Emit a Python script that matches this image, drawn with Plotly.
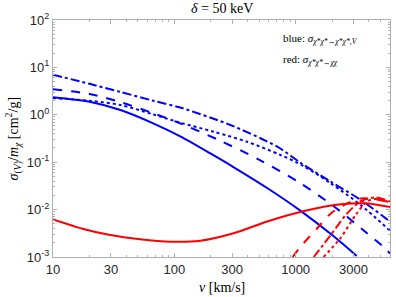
import plotly.graph_objects as go

# ---- data ----
# blue: sigma_{chi* chi* -> chi* chi*, V}
v_b_solid = [10, 20, 36, 67, 112, 200, 307, 600, 1100, 2000, 3190]
b_solid = [2.35, 1.89, 1.26, 0.66, 0.35, 0.151, 0.079, 0.0272, 0.0094, 0.0029, 0.00105]

v_b_dash = [10, 20, 36, 67, 112, 228, 494, 1060, 2060, 3860, 5540, 6000]
b_dash = [3.45, 2.75, 1.85, 1.08, 0.66, 0.30, 0.115, 0.038, 0.0118, 0.0032, 0.00148, 0.00118]

v_b_dashdot = [10, 20, 36, 67, 112, 290, 706, 1100, 1945, 3440, 6000]
b_dashdot = [7.0, 4.5, 3.03, 1.98, 1.42, 0.61, 0.212, 0.097, 0.0388, 0.016, 0.0056]

v_b_dot = [10, 20, 36, 67, 112, 211, 398, 751, 1172, 1945, 3440, 6000]
b_dot = [2.25, 1.98, 1.61, 1.02, 0.68, 0.44, 0.27, 0.142, 0.082, 0.0359, 0.0125, 0.0036]

# red: sigma_{chi* chi* -> chi chi}
v_r_solid = [10, 17.8, 29.6, 52.4, 92.5, 164, 308, 583, 1172, 2360, 3670, 6000]
r_solid = [0.0062, 0.0039, 0.0029, 0.00236, 0.0021, 0.0022, 0.00316, 0.0056, 0.0093, 0.0129, 0.0136, 0.0113]

v_r_dash = [945, 1100, 1515, 1950, 2670, 3450, 4500, 6000]
r_dash = [0.001, 0.00166, 0.0041, 0.0083, 0.0135, 0.0172, 0.0165, 0.0143]

v_r_dashdot = [1410, 1945, 2600, 3440, 4580, 6000]
r_dashdot = [0.001, 0.0029, 0.0078, 0.015, 0.018, 0.0148]

v_r_dot = [1700, 2340, 3140, 3900, 4870, 6000]
r_dot = [0.001, 0.0025, 0.0078, 0.015, 0.017, 0.0137]

x_ticks = [10, 30, 100, 300, 1000, 3000]
x_ticktext = ["10", "30", "100", "300", "1000", "3000"]
x_minor = [20, 40, 50, 60, 70, 80, 90, 200, 400, 500, 600, 700, 800, 900,
           2000, 4000, 5000, 6000]
y_ticks = [1e-3, 1e-2, 1e-1, 1, 10, 100]
y_ticktext = ["10<sup>-3</sup>", "10<sup>-2</sup>", "10<sup>-1</sup>",
              "10<sup>0</sup>", "10<sup>1</sup>", "10<sup>2</sup>"]
y_minor = [m * 10 ** e for e in range(-3, 2) for m in range(2, 10)]

BLUE = "#0000ff"
RED = "#ff0000"

fig = go.Figure()

def add(v, s, color, dash):
    fig.add_trace(go.Scatter(x=v, y=s, mode="lines",
                             line=dict(color=color, width=2, dash=dash,
                                       shape="spline", smoothing=0.8),
                             showlegend=False, hoverinfo="skip"))

add(v_b_solid, b_solid, BLUE, "solid")
add(v_b_dash, b_dash, BLUE, "dash")
add(v_b_dashdot, b_dashdot, BLUE, "dashdot")
add(v_b_dot, b_dot, BLUE, "dot")
add(v_r_solid, r_solid, RED, "solid")
add(v_r_dash, r_dash, RED, "dash")
add(v_r_dashdot, r_dashdot, RED, "dashdot")
add(v_r_dot, r_dot, RED, "dot")

axcol = "#b0b0b0"
tickfont = dict(family="Liberation Sans", size=13, color="#262626")

fig.update_layout(
    width=396, height=297,
    margin=dict(l=53, r=6, t=20, b=40, autoexpand=False),
    paper_bgcolor="white", plot_bgcolor="white",
    xaxis=dict(type="log", range=[1, 3.778],
               tickmode="array", tickvals=x_ticks, ticktext=x_ticktext,
               ticks="inside", ticklen=4, tickcolor=axcol,
               showline=True, linecolor=axcol, linewidth=1, mirror="ticks",
               showgrid=False, zeroline=False, tickfont=tickfont,
               minor=dict(tickmode="array", tickvals=x_minor, ticks="inside",
                          ticklen=2, tickcolor=axcol, showgrid=False)),
    yaxis=dict(type="log", range=[-3, 2],
               tickmode="array", tickvals=y_ticks, ticktext=y_ticktext,
               ticks="inside", ticklen=4, tickcolor=axcol,
               showline=True, linecolor=axcol, linewidth=1, mirror="ticks",
               showgrid=False, zeroline=False, tickfont=tickfont,
               minor=dict(tickmode="array", tickvals=y_minor, ticks="inside",
                          ticklen=2, tickcolor=axcol, showgrid=False)),
)

serif = "Liberation Serif"
fig.add_annotation(text="<i>δ</i> = 50 keV", xref="paper", yref="paper",
                   x=0.5, y=1.0, yshift=12, showarrow=False,
                   font=dict(family=serif, size=14, color="black"),
                   xanchor="center", yanchor="middle")
fig.add_annotation(text="<i>v</i> [km/s]", xref="paper", yref="paper",
                   x=0.5, y=0, yshift=-30, showarrow=False,
                   font=dict(family=serif, size=14, color="black"),
                   xanchor="center", yanchor="middle")
fig.add_annotation(text="<i>σ</i><sub>(<i>V</i>)</sub>/<i>m</i><sub><i>χ</i></sub> [cm<sup>2</sup>/g]",
                   xref="paper", yref="paper", x=-0.116, y=0.5, textangle=-90,
                   showarrow=False, font=dict(family=serif, size=14, color="black"),
                   xanchor="center", yanchor="middle")
fig.add_annotation(text="blue: <i>σ</i><sub><i>χ*χ*→χ*χ*,V</i></sub>",
                   xref="paper", yref="paper", x=0.676, y=0.92, showarrow=False,
                   font=dict(family=serif, size=11, color="black"),
                   xanchor="left", yanchor="middle")
fig.add_annotation(text="red: <i>σ</i><sub><i>χ*χ*→χχ</i></sub>",
                   xref="paper", yref="paper", x=0.676, y=0.831, showarrow=False,
                   font=dict(family=serif, size=11, color="black"),
                   xanchor="left", yanchor="middle")

# remove the page's default body margin so the figure sits at the window's corner
fig.write_html("out.html", config={"displayModeBar": False, "staticPlot": True},
               post_script="document.body.style.margin='0px';")
